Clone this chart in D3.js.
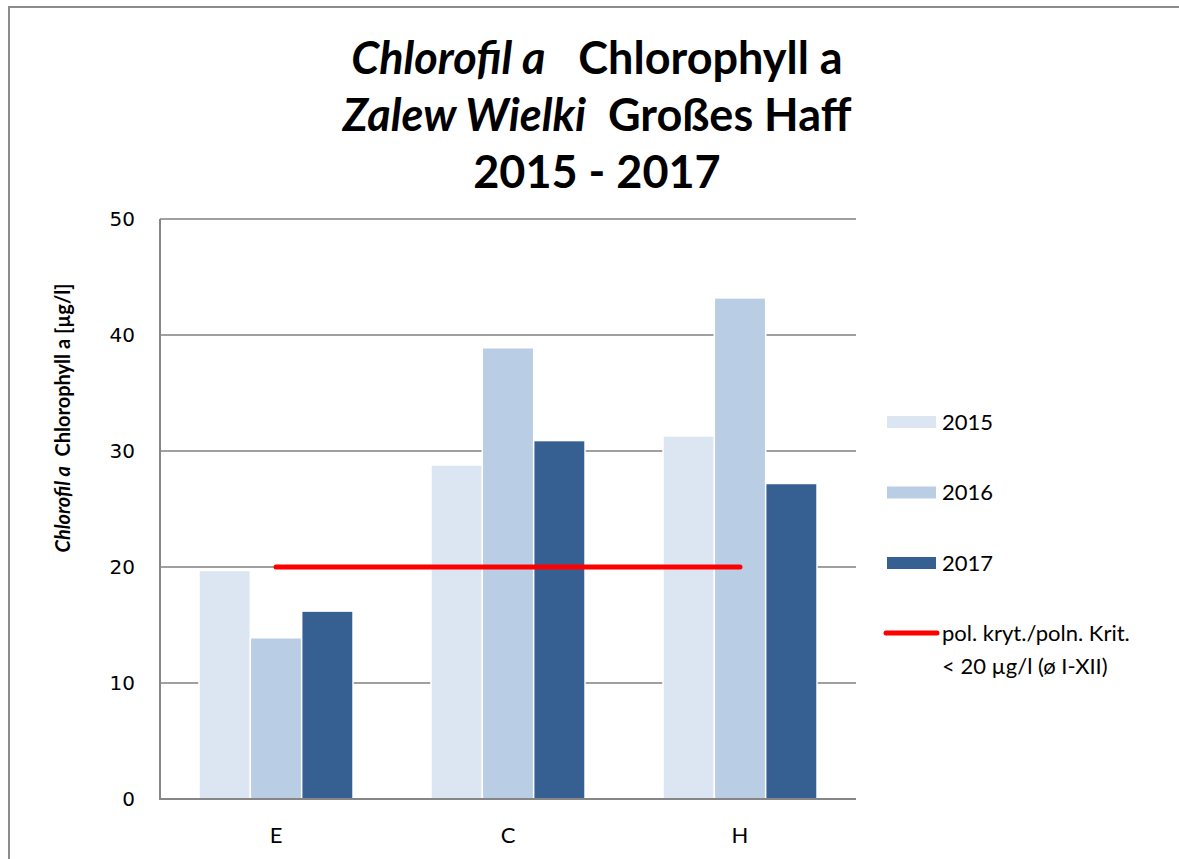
<!DOCTYPE html>
<html>
<head>
<meta charset="utf-8">
<script src="https://cdn.jsdelivr.net/npm/d3@7"></script>
<style>
  body { margin: 0; background: #fff; }
  text { white-space: pre; }
</style>
</head>
<body>
<svg id="mySvg" width="1179" height="859"></svg>
<script>
//chart data
var categories = ["E", "C", "H"];
var years = ["2015", "2016", "2017"];
var values2015 = [19.7, 28.8, 31.3];
var values2016 = [13.9, 38.9, 43.2];
var values2017 = [16.2, 30.9, 27.2];
var criterion = 20;
var criterionLabel = ["pol. kryt./poln. Krit.", "< 20 µg/l (ø I-XII)"];
var yTicks = [0, 10, 20, 30, 40, 50];
var yearColors = ["#dce6f2", "#b9cde5", "#376092"];

var series = [values2015, values2016, values2017];

var svg = d3.select("#mySvg");
var plotLeft = 160, plotRight = 856, plotTop = 219, plotBottom = 799;

//outer frame of the chart
svg.append("rect")
    .attr("x", 9).attr("y", 7)
    .attr("width", 1200).attr("height", 900)
    .attr("fill", "none")
    .attr("stroke", "#8c8c8c")
    .attr("stroke-width", 2);

//scales
var x0 = d3.scaleBand().domain(categories).range([plotLeft, plotRight])
    .paddingInner(0.336).paddingOuter(0.168);
var x1 = d3.scaleBand().domain(years).range([0, x0.bandwidth()]);
var y = d3.scaleLinear().domain([0, 50]).range([plotBottom, plotTop]);

//grid lines
svg.append("g").selectAll("line")
    .data(yTicks.filter(function(d) { return d > 0; }))
    .enter().append("line")
    .attr("x1", plotLeft).attr("x2", plotRight)
    .attr("y1", function(d) { return y(d); })
    .attr("y2", function(d) { return y(d); })
    .attr("stroke", "#a0a0a0")
    .attr("stroke-width", 2);

//y axis labels
var yAxis = d3.axisLeft(y).tickValues(yTicks).tickSize(0).tickPadding(25);
var gy = svg.append("g").attr("transform", "translate(" + plotLeft + ",0)").call(yAxis);
gy.select(".domain").remove();
gy.selectAll("text")
    .attr("font-family", "DejaVu Sans")
    .attr("font-size", 20)
    .attr("fill", "#000");

//bars
var groups = svg.append("g").selectAll("g")
    .data(categories)
    .enter().append("g")
    .attr("transform", function(d) { return "translate(" + x0(d) + ",0)"; });
groups.selectAll("rect")
    .data(function(d, i) {
        return years.map(function(yr, k) { return { year: yr, value: series[k][i], k: k }; });
    })
    .enter().append("rect")
    .attr("x", function(d) { return x1(d.year); })
    .attr("width", x1.bandwidth())
    .attr("y", function(d) { return y(d.value); })
    .attr("height", function(d) { return y(0) - y(d.value); })
    .attr("fill", function(d) { return yearColors[d.k]; })
    .attr("stroke", "#fff")
    .attr("stroke-width", 1.5);

//axis lines
svg.append("line")
    .attr("x1", plotLeft).attr("x2", plotLeft).attr("y1", plotTop).attr("y2", plotBottom)
    .attr("stroke", "#868686").attr("stroke-width", 2);
svg.append("line")
    .attr("x1", plotLeft - 1).attr("x2", plotRight).attr("y1", plotBottom).attr("y2", plotBottom)
    .attr("stroke", "#868686").attr("stroke-width", 2);

//x axis labels
var xAxis = d3.axisBottom(x0).tickSize(0).tickPadding(28);
var gx = svg.append("g").attr("transform", "translate(0," + plotBottom + ")").call(xAxis);
gx.select(".domain").remove();
gx.selectAll("text")
    .attr("font-family", "Lato")
    .attr("font-size", 22)
    .attr("fill", "#000");

//criterion line
var xc = function(c) { return x0(c) + x0.bandwidth() / 2; };
svg.append("line")
    .attr("x1", xc(categories[0]))
    .attr("x2", xc(categories[categories.length - 1]))
    .attr("y1", y(criterion)).attr("y2", y(criterion))
    .attr("stroke", "#ff0000")
    .attr("stroke-width", 5)
    .attr("stroke-linecap", "round");

//title
var title = svg.append("text")
    .attr("text-anchor", "middle")
    .attr("font-family", "Lato")
    .attr("font-weight", "bold")
    .attr("font-size", 45)
    .attr("fill", "#000");
var t1 = title.append("tspan").attr("x", 597).attr("y", 74);
t1.append("tspan").attr("font-style", "italic").text("Chlorofil a");
t1.append("tspan").text("   Chlorophyll a");
var t2 = title.append("tspan").attr("x", 597).attr("y", 131);
t2.append("tspan").attr("font-style", "italic").text("Zalew Wielki");
t2.append("tspan").text("  Großes Haff");
title.append("tspan").attr("x", 597).attr("y", 188).text("2015 - 2017");

//y axis title
var ytitle = svg.append("text")
    .attr("transform", "translate(70,418) rotate(-90)")
    .attr("text-anchor", "middle")
    .attr("font-family", "Lato")
    .attr("font-weight", "bold")
    .attr("font-size", 20)
    .attr("fill", "#000");
ytitle.append("tspan").attr("font-style", "italic").text("Chlorofil a");
ytitle.append("tspan").text("  Chlorophyll a [µg/l]");

//legend
var legend = svg.append("g").attr("font-family", "Lato").attr("font-size", 22);
years.forEach(function(yr, k) {
    var ly = 422 + k * 70.5;
    legend.append("rect")
        .attr("x", 887).attr("y", ly - 6)
        .attr("width", 49).attr("height", 12)
        .attr("fill", yearColors[k]);
    legend.append("text")
        .attr("x", 942).attr("y", ly)
        .attr("dy", "0.35em")
        .text(yr);
});
legend.append("line")
    .attr("x1", 886).attr("x2", 937).attr("y1", 633).attr("y2", 633)
    .attr("stroke", "#ff0000")
    .attr("stroke-width", 5)
    .attr("stroke-linecap", "round");
criterionLabel.forEach(function(s, i) {
    legend.append("text")
        .attr("x", 942).attr("y", 633 + i * 33)
        .attr("dy", "0.35em")
        .text(s);
});
</script>
</body>
</html>
